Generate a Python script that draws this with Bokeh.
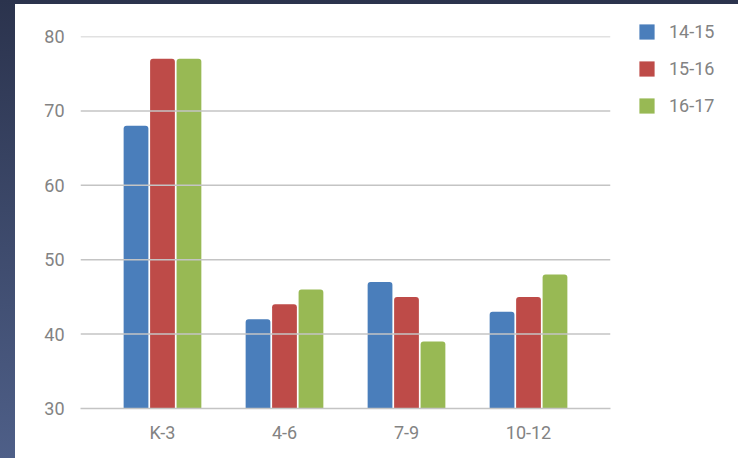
from bokeh.plotting import figure
from bokeh.models import ColumnDataSource, FixedTicker, Legend, LegendItem, Range1d, Span
from bokeh.layouts import column, row
from bokeh.embed import file_html
from bokeh.resources import INLINE

# Grade bands and yearly values
categories = ["K-3", "4-6", "7-9", "10-12"]
years = ["14-15", "15-16", "16-17"]
vals_14_15 = [68, 42, 47, 43]
vals_15_16 = [77, 44, 45, 45]
vals_16_17 = [77, 46, 39, 48]
y_ticks = [30, 40, 50, 60, 70, 80]

colors = ["#4a7ebb", "#be4b48", "#98b954"]
series = [vals_14_15, vals_15_16, vals_16_17]

FONT = "Roboto"
TXT = "#838383"
GRID = "#c4c4c4"
FS = "18px"

p = figure(width=603, height=454, output_backend="svg", toolbar_location=None,
           x_range=Range1d(-0.672, 3.672), y_range=Range1d(30, 80),
           min_border_left=65, min_border_right=8, min_border_top=32,
           min_border_bottom=50, margin=0)
p.frame_align = False
p.background_fill_color = None
p.border_fill_color = None
p.outline_line_color = None

x = list(range(len(categories)))
offsets = [-0.217, 0.0, 0.217]
for vals, col, off in zip(series, colors, offsets):
    src = ColumnDataSource(dict(x=[xi + off for xi in x], top=vals))
    p.vbar(x="x", top="top", bottom=30, width=0.203, source=src,
           fill_color=col, line_color=None, border_radius=[3, 3, 0, 0])

# x axis: category labels under each group
p.xaxis.ticker = FixedTicker(ticks=x)
p.xaxis.major_label_overrides = {i: c for i, c in enumerate(categories)}
p.xaxis.major_tick_line_color = None
p.xaxis.minor_tick_line_color = None
p.xaxis.axis_line_color = GRID
p.xaxis.axis_line_width = 1.5
p.xaxis.major_label_text_font = FONT
p.xaxis.major_label_text_font_size = FS
p.xaxis.major_label_text_color = TXT
p.xaxis.major_label_standoff = 7

# y axis: labels only; horizontal rules at each tick value
p.yaxis.ticker = FixedTicker(ticks=y_ticks)
p.yaxis.axis_line_color = None
p.yaxis.major_tick_line_color = None
p.yaxis.minor_tick_line_color = None
p.yaxis.major_label_text_font = FONT
p.yaxis.major_label_text_font_size = FS
p.yaxis.major_label_text_color = TXT
p.yaxis.major_label_standoff = 10
p.grid.grid_line_color = None
for t in y_ticks[1:]:
    p.add_layout(Span(location=t, dimension="width", line_color=GRID, line_width=1.5))

# separate narrow panel holding the series legend
leg = figure(width=120, height=454, output_backend="svg", toolbar_location=None,
             x_range=Range1d(0, 1), y_range=Range1d(0, 1),
             x_axis_type=None, y_axis_type=None,
             min_border=0, margin=0)
leg.frame_align = False
leg.outline_line_color = None
leg.grid.grid_line_color = None
leg.border_fill_color = None
leg.background_fill_color = None
# swatch renderers sit below the visible range; only their legend glyphs show
swatches = [leg.vbar(x=[0.5], top=[-1], bottom=-2, width=0.1, fill_color=c, line_color=None)
            for c in colors]

legend = Legend(items=[LegendItem(label=yr, renderers=[r]) for yr, r in zip(years, swatches)],
                location=(19, 342), orientation="vertical",
                glyph_width=19, glyph_height=19, label_height=19,
                spacing=16, padding=0, margin=0, label_standoff=13,
                label_text_font=FONT, label_text_font_size=FS,
                label_text_color=TXT, border_line_color=None,
                background_fill_alpha=0)
leg.add_layout(legend, "center")

panel = row(p, leg, margin=(4, 0, 0, 15), styles={"background": "white"})
page = column(panel, styles={"background": "linear-gradient(to bottom, #2b334d, #4e5f88)"})

open("out.html", "w").write(file_html(page, INLINE))
